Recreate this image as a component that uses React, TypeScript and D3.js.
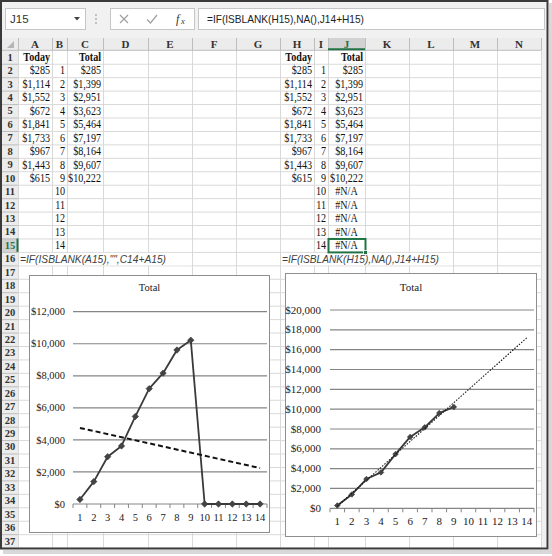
import React from 'react';
import * as d3 from 'd3';

// Spreadsheet values
const todayValues = [285, 1114, 1552, 672, 1841, 1733, 967, 1443, 615];
const periods = [1, 2, 3, 4, 5, 6, 7, 8, 9, 10, 11, 12, 13, 14];
const totalValues = [285, 1399, 2951, 3623, 5464, 7197, 8164, 9607, 10222];

// What each chart plots: "" is drawn as zero, #N/A is skipped
const blankChartValues = [285, 1399, 2951, 3623, 5464, 7197, 8164, 9607, 10222, 0, 0, 0, 0, 0];
const naChartValues = [285, 1399, 2951, 3623, 5464, 7197, 8164, 9607, 10222, null, null, null, null, null];

const leftTicks = [0, 2000, 4000, 6000, 8000, 10000, 12000];
const rightTicks = [0, 2000, 4000, 6000, 8000, 10000, 12000, 14000, 16000, 18000, 20000];

const columnLetters = ['A', 'B', 'C', 'D', 'E', 'F', 'G', 'H', 'I', 'J', 'K', 'L', 'M', 'N'];
const formulaBar = '=IF(ISBLANK(H15),NA(),J14+H15)';
const formulaBlank = '=IF(ISBLANK(A15),"",C14+A15)';
const formulaNA = '=IF(ISBLANK(H15),NA(),J14+H15)';

const W = 552;
const H = 556;
const colEdges = [18, 52, 67, 103, 148, 192, 236, 280, 314, 328, 365, 409, 453, 497, 541];
const rowY = d3.scaleLinear().domain([0, 37]).range([50.3, 547.6]);
const rowMid = (r: number) => rowY(r - 0.5);
const money = d3.format('$,');
const GREEN = '#217346';
const SERIF = "'Liberation Serif', 'Times New Roman', serif";
const SANS = "'Liberation Sans', Arial, sans-serif";

type Cell = { col: number; row: number; text: string; align: 'end' | 'middle'; bold?: boolean };

function buildCells(offset: number, useNA: boolean): Cell[] {
  const cells: Cell[] = [
    { col: offset, row: 1, text: 'Today', align: 'end', bold: true },
    { col: offset + 2, row: 1, text: 'Total', align: 'end', bold: true },
  ];
  todayValues.forEach((v, i) => cells.push({ col: offset, row: i + 2, text: money(v), align: 'end' }));
  periods.forEach((p, i) => cells.push({ col: offset + 1, row: i + 2, text: String(p), align: 'end' }));
  totalValues.forEach((v, i) => cells.push({ col: offset + 2, row: i + 2, text: money(v), align: 'end' }));
  if (useNA) {
    periods.slice(totalValues.length).forEach((_, i) =>
      cells.push({ col: offset + 2, row: totalValues.length + 2 + i, text: '#N/A', align: 'middle' })
    );
  }
  return cells;
}

const cells = [...buildCells(0, false), ...buildCells(7, true)];

function linearFit(xs: number[], ys: number[]) {
  const mx = d3.mean(xs) as number;
  const my = d3.mean(ys) as number;
  const sxy = d3.sum(xs, (x, i) => (x - mx) * (ys[i] - my));
  const sxx = d3.sum(xs, (x) => (x - mx) ** 2);
  const b = sxy / sxx;
  return (x: number) => my + b * (x - mx);
}

type ChartProps = {
  box: [number, number, number, number];
  xRange: [number, number];
  yRange: [number, number];
  ticks: number[];
  values: (number | null)[];
  trendDash: string;
  trendWidth: number;
  fontSize: number;
  titleY: number;
  xLabelY: number;
  yLabelX: number;
  markerR: number;
};

const LineChart: React.FC<ChartProps> = (p) => {
  const [bx, by, bw, bh] = p.box;
  const x = d3.scaleBand<number>().domain(periods).range(p.xRange).padding(0);
  const cx = (d: number) => (x(d) as number) + x.bandwidth() / 2;
  const y = d3.scaleLinear().domain([p.ticks[0], p.ticks[p.ticks.length - 1]]).range(p.yRange);

  const pts = periods.map((d, i) => ({ d, v: p.values[i] }));
  const line = d3
    .line<{ d: number; v: number | null }>()
    .defined((q) => q.v != null)
    .x((q) => cx(q.d))
    .y((q) => y(q.v as number));

  const known = pts.filter((q) => q.v != null);
  const fit = linearFit(known.map((q) => q.d), known.map((q) => q.v as number));
  const first = periods[0];
  const last = periods[periods.length - 1];
  const r = p.markerR;
  const diamond = `M0,${-r}L${r},0L0,${r}L${-r},0Z`;

  return (
    <g>
      <rect x={bx} y={by} width={bw} height={bh} fill="#fff" stroke="#8e8e8e" strokeWidth={1} />
      <text x={bx + bw / 2} y={p.titleY} textAnchor="middle" fontFamily={SERIF} fontSize={p.fontSize} fill="#222">
        Total
      </text>
      {p.ticks.map((t) => (
        <g key={t}>
          <line x1={p.xRange[0]} x2={p.xRange[1]} y1={y(t)} y2={y(t)} stroke="#858585" strokeWidth={1.2} />
          <text x={p.yLabelX} y={y(t) + 3.6} textAnchor="end" fontFamily={SERIF} fontSize={p.fontSize} fill="#222">
            {money(t)}
          </text>
        </g>
      ))}
      {[...periods.map((d) => x(d) as number), p.xRange[1]].map((tx, i) => (
        <line key={i} x1={tx} x2={tx} y1={y(0)} y2={y(0) + 4} stroke="#858585" strokeWidth={1} />
      ))}
      {periods.map((d) => (
        <text key={d} x={cx(d)} y={p.xLabelY} textAnchor="middle" fontFamily={SERIF} fontSize={p.fontSize} fill="#222">
          {d}
        </text>
      ))}
      <path d={line(pts) as string} fill="none" stroke="#3a3a3a" strokeWidth={1.8} strokeLinejoin="round" />
      {known.map((q) => (
        <path key={q.d} d={diamond} transform={`translate(${cx(q.d)},${y(q.v as number)})`} fill="#444" stroke="#333" strokeWidth={0.6} />
      ))}
      <line
        x1={cx(first)}
        y1={y(fit(first))}
        x2={cx(last)}
        y2={y(fit(last))}
        stroke="#111"
        strokeWidth={p.trendWidth}
        strokeDasharray={p.trendDash}
      />
    </g>
  );
};

const App: React.FC = () => {
  const rows = d3.range(1, 38);
  const overflow = [
    { text: formulaBlank, startCol: 0, endCol: 4, x: 20, len: 146 },
    { text: formulaNA, startCol: 7, endCol: 11, x: 282, len: 157 },
  ];

  return (
    <div style={{ position: 'absolute', left: 0, top: 0 }}>
      <svg width={W} height={H} style={{ display: 'block' }}>
        <rect width={W} height={H} fill="#fff" />

        {/* toolbar */}
        <rect x={1} y={1} width={546} height={37} fill="#f1f1f1" />
        <rect x={5.5} y={8.5} width={80} height={21} fill="#fff" stroke="#c6c6c6" />
        <text x={10} y={23} fontFamily={SANS} fontSize={11.5} fill="#333">J15</text>
        <path d="M74,17L80,17L77,20.5Z" fill="#444" />
        {[15, 19, 23].map((cy) => (
          <circle key={cy} cx={96} cy={cy} r={0.9} fill="#a8a8a8" />
        ))}
        <rect x={110.5} y={8.5} width={84} height={21} fill="#fff" stroke="#c6c6c6" />
        <path d="M120,15L128,23M128,15L120,23" stroke="#a0a0a0" strokeWidth={1.2} />
        <path d="M147,19.5L150.5,23L157,15" stroke="#a0a0a0" strokeWidth={1.2} fill="none" />
        <text x={176} y={23} fontFamily={SERIF} fontStyle="italic" fontSize={12} fill="#333">f</text>
        <text x={181} y={24} fontFamily={SERIF} fontStyle="italic" fontSize={8.5} fill="#333">x</text>
        <rect x={198.5} y={8.5} width={346} height={21} fill="#fff" stroke="#c6c6c6" />
        <text x={207} y={23} fontFamily={SANS} fontSize={11.5} fill="#222" textLength={157} lengthAdjust="spacingAndGlyphs">
          {formulaBar}
        </text>

        {/* header row and row header column */}
        <rect x={2} y={38} width={539} height={rowY(0) - 38} fill="#ececec" />
        <rect x={2} y={rowY(0)} width={16} height={rowY(37) - rowY(0)} fill="#ececec" />
        <rect x={541} y={38} width={6} height={rowY(37) - 38} fill="#f0f0f0" />
        <rect x={colEdges[9]} y={38} width={colEdges[10] - colEdges[9]} height={rowY(0) - 38} fill="#d2d2d2" />
        <rect x={2} y={rowY(14)} width={16} height={rowY(15) - rowY(14)} fill="#d2d2d2" />
        <path d="M14,41L14,48L7,48Z" fill="#b5b5b5" />

        {/* cell gridlines */}
        {colEdges.map((cx0) => (
          <line key={`v${cx0}`} x1={cx0 + 0.5} x2={cx0 + 0.5} y1={rowY(0)} y2={rowY(37)} stroke="#d9d9d9" />
        ))}
        {rows.map((r) => (
          <line key={`h${r}`} x1={18} x2={541} y1={rowY(r) + 0.5} y2={rowY(r) + 0.5} stroke="#d9d9d9" />
        ))}

        {/* header separators */}
        {colEdges.map((cx0) => (
          <line key={`hv${cx0}`} x1={cx0 + 0.5} x2={cx0 + 0.5} y1={38} y2={rowY(0)} stroke="#bdbdbd" />
        ))}
        <line x1={2} x2={541} y1={rowY(0)} y2={rowY(0)} stroke="#bdbdbd" />
        {rows.map((r) => (
          <line key={`rh${r}`} x1={2} x2={18} y1={rowY(r) + 0.5} y2={rowY(r) + 0.5} stroke="#bdbdbd" />
        ))}
        <line x1={colEdges[9]} x2={colEdges[10]} y1={rowY(0) - 1} y2={rowY(0) - 1} stroke={GREEN} strokeWidth={2} />
        <line x1={17.5} x2={17.5} y1={rowY(14)} y2={rowY(15)} stroke={GREEN} strokeWidth={2} />

        {columnLetters.map((c, i) => (
          <text
            key={c}
            x={(colEdges[i] + colEdges[i + 1]) / 2}
            y={47.5}
            textAnchor="middle"
            fontFamily={SERIF}
            fontWeight="bold"
            fontSize={11}
            fill={i === 9 ? GREEN : '#333'}
          >
            {c}
          </text>
        ))}
        {rows.map((r) => (
          <text
            key={`rn${r}`}
            x={10}
            y={rowMid(r) + 3.7}
            textAnchor="middle"
            fontFamily={SERIF}
            fontWeight="bold"
            fontSize={10.5}
            fill={r === 15 ? GREEN : '#333'}
          >
            {r}
          </text>
        ))}

        {/* cell values, slightly condensed like the screen font */}
        {cells.map((c, i) => {
          const left = colEdges[c.col];
          const right = colEdges[c.col + 1];
          const tx = c.align === 'end' ? right - 2 : (left + right) / 2;
          return (
            <text
              key={i}
              transform={`translate(${tx},${rowMid(c.row) + 4}) scale(0.88,1)`}
              textAnchor={c.align}
              fontFamily={SERIF}
              fontWeight={c.bold ? 'bold' : 'normal'}
              fontSize={11.5}
              fill="#111"
            >
              {c.text}
            </text>
          );
        })}

        {/* overflowing formula text in row 16 */}
        {overflow.map((o) => (
          <g key={o.x}>
            <rect
              x={colEdges[o.startCol] + 1}
              y={rowY(15) + 1}
              width={colEdges[o.endCol + 1] - colEdges[o.startCol] - 1.5}
              height={rowY(16) - rowY(15) - 1}
              fill="#fff"
            />
            <text
              x={o.x}
              y={rowMid(16) + 4}
              fontFamily={SANS}
              fontStyle="italic"
              fontSize={11}
              fill="#404040"
              textLength={o.len}
              lengthAdjust="spacingAndGlyphs"
            >
              {o.text}
            </text>
          </g>
        ))}

        {/* active cell J15 */}
        <rect
          x={colEdges[9] + 0.5}
          y={rowY(14) + 0.5}
          width={colEdges[10] - colEdges[9]}
          height={rowY(15) - rowY(14)}
          fill="none"
          stroke={GREEN}
          strokeWidth={2}
        />
        <rect x={colEdges[10] - 1.5} y={rowY(15) - 1.5} width={4} height={4} fill={GREEN} stroke="#fff" strokeWidth={0.8} />

        <LineChart
          box={[29.5, 275.5, 240, 257]}
          xRange={[73, 267]}
          yRange={[504, 311.7]}
          ticks={leftTicks}
          values={blankChartValues}
          trendDash="5,3"
          trendWidth={2}
          fontSize={10.5}
          titleY={291}
          xLabelY={520.5}
          yLabelX={65}
          markerR={3.2}
        />
        <LineChart
          box={[285.5, 273.5, 251, 263]}
          xRange={[330, 534]}
          yRange={[508.3, 310]}
          ticks={rightTicks}
          values={naChartValues}
          trendDash="1.5,1.5"
          trendWidth={1.1}
          fontSize={11}
          titleY={290.5}
          xLabelY={524.5}
          yLabelX={321}
          markerR={2.8}
        />

        {/* window frame */}
        <rect x={1} y={1} width={546.5} height={547.5} fill="none" stroke="#3a3a3a" strokeWidth={2} />
        <rect x={549} y={3} width={3} height={549} fill="#d8d8d8" />
        <rect x={3} y={550} width={549} height={4} fill="#d8d8d8" />
      </svg>
    </div>
  );
};

export default App;
